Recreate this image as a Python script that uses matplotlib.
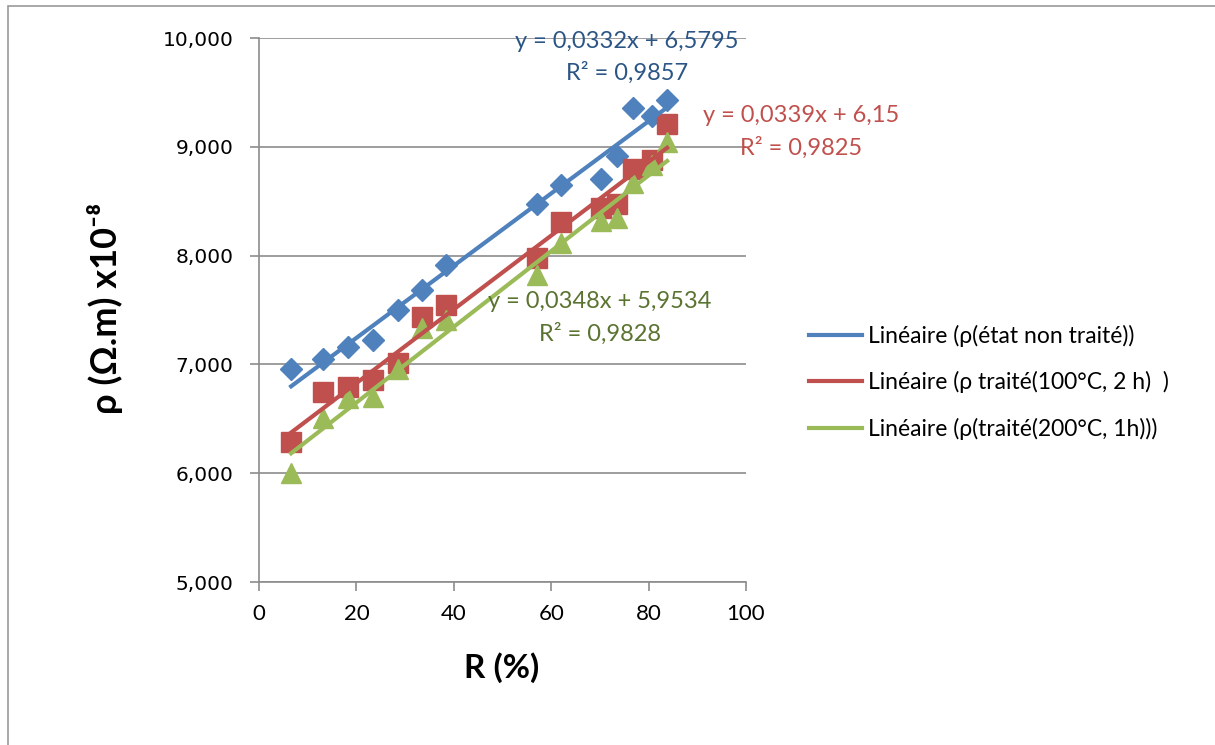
"""Résistivité en fonction de R (%) pour trois états de traitement, avec droites de tendance."""

import matplotlib

matplotlib.use("Agg")
import matplotlib.pyplot as plt
from matplotlib.patches import Rectangle
import numpy as np

# Données
r_pct = [6.6, 13.1, 18.2, 23.4, 28.5, 33.5, 38.4, 57.1, 62.0, 70.2, 73.5, 76.8, 80.7, 83.8]
rho_non_traite = [6.96, 7.05, 7.16, 7.22, 7.50, 7.68, 7.91, 8.47, 8.65, 8.70, 8.92, 9.36, 9.28, 9.43]
rho_100 = [6.29, 6.75, 6.79, 6.86, 7.01, 7.44, 7.55, 7.98, 8.31, 8.44, 8.47, 8.80, 8.88, 9.21]
rho_200 = [6.00, 6.51, 6.69, 6.70, 6.96, 7.33, 7.41, 7.82, 8.12, 8.32, 8.35, 8.67, 8.83, 9.04]

# Équations des tendances affichées
pentes = [0.0332, 0.0339, 0.0348]
ordonnees = [6.5795, 6.15, 5.9534]
r2 = ["0,9857", "0,9825", "0,9828"]

legendes = [
    "Linéaire (ρ(état non traité))",
    "Linéaire (ρ traité(100°C, 2 h)  )",
    "Linéaire (ρ(traité(200°C, 1h)))",
]
couleurs = ["#4F81BD", "#C0504D", "#9BBB59"]
couleurs_texte = ["#2A5585", "#C0504D", "#5A7330"]
marqueurs = [("D", 11), ("s", 14), ("^", 14)]
pos_texte = [(627, 41), (801, 116), (600, 302)]

W, H = 1215, 745
fig = plt.figure(figsize=(W / 100, H / 100), dpi=100)
fig.patches.append(Rectangle((8 / W, -0.01), 1.0, 1 - 6 / H + 0.01,
                             transform=fig.transFigure, fill=False,
                             edgecolor="#9A9A9A", linewidth=1.2))
ax = fig.add_axes([259 / W, 1 - 582 / H, (746 - 259) / W, (582 - 38) / H])

x = np.array(r_pct)
series = [rho_non_traite, rho_100, rho_200]
for i, ys in enumerate(series):
    m, ms = marqueurs[i]
    ax.plot(x, ys, linestyle="none", marker=m, markersize=ms,
            color=couleurs[i], zorder=3)
for i in range(3):
    xs = np.array([x.min(), x.max()])
    ax.plot(xs, pentes[i] * xs + ordonnees[i], color=couleurs[i],
            linewidth=3, label=legendes[i], zorder=4)

font = "Lato"
for i in range(3):
    px, py = pos_texte[i]
    eq = f"y = {pentes[i]:.4f}".replace(".", ",").rstrip("0") + "x + " + \
        f"{ordonnees[i]:g}".replace(".", ",")
    fig.text(px / W, 1 - py / H, eq, color=couleurs_texte[i], fontsize=17,
             family=font, ha="center", va="center")
    fig.text(px / W, 1 - (py + 32) / H, "R² = " + r2[i], color=couleurs_texte[i],
             fontsize=17, family=font, ha="center", va="center")

ax.set_xlim(0, 100)
ax.set_ylim(5, 10)
ax.set_xticks(range(0, 101, 20))
ax.set_xticklabels([str(v) for v in range(0, 101, 20)], family=font, fontsize=16)
ax.set_yticks(range(5, 11))
ax.set_yticklabels([f"{v:.3f}".replace(".", ",") for v in range(5, 11)], fontsize=14.5)
ax.tick_params(color="#8C8C8C", length=6.5, width=1.2)
ax.tick_params(axis="y", pad=12)
ax.tick_params(axis="x", pad=9)
ax.grid(axis="y", color="#8C8C8C", linewidth=1.2)
ax.set_axisbelow(True)
for s in ["top", "right"]:
    ax.spines[s].set_visible(False)
for s in ["left", "bottom"]:
    ax.spines[s].set_color("#8C8C8C")
    ax.spines[s].set_linewidth(1.2)

fig.text(502 / W, 1 - 668 / H, "R (%)", fontsize=24, fontweight="bold",
         family=font, ha="center", va="center")
fig.text(105 / W, 1 - 308 / H, "ρ (Ω.m) x10⁻⁸", rotation=90, fontsize=26,
         fontweight="bold", family=["Lato", "DejaVu Sans"], ha="center", va="center")

fig.legend(loc="upper left", bbox_to_anchor=(800 / W, 1 - 316 / H), frameon=False,
           prop={"family": font, "size": 16.5}, handlelength=2.3, handletextpad=0.25,
           labelspacing=1.05, borderaxespad=0)

plt.savefig("out.png", dpi=100)
